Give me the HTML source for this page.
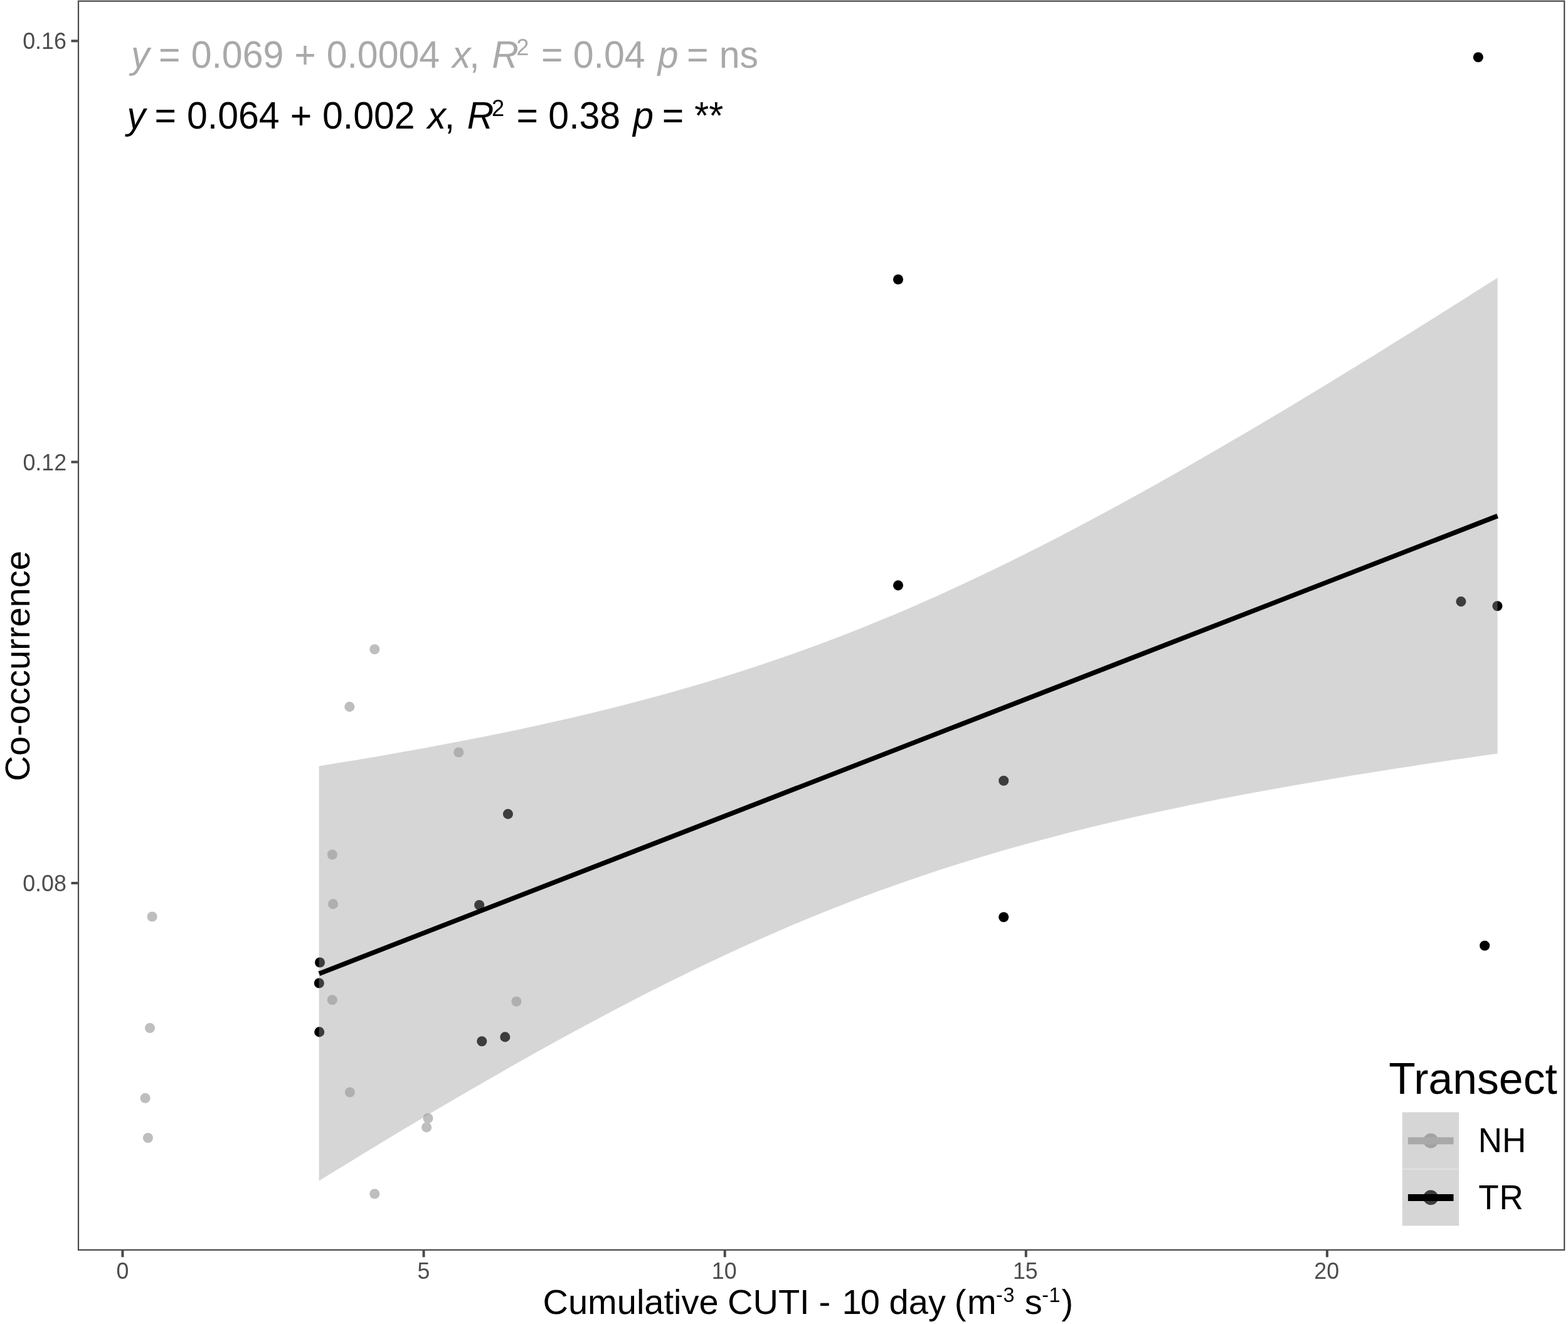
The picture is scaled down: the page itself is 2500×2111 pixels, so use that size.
<!DOCTYPE html>
<html lang="en"><head><meta charset="utf-8"><title>Co-occurrence vs Cumulative CUTI</title>
<style>
html,body{margin:0;padding:0;background:#fff;}
body{width:2500px;height:2111px;overflow:hidden;}
svg{display:block;font-family:"Liberation Sans", sans-serif;}
text{white-space:pre;}
.it{font-style:italic;}
</style></head><body>
<svg width="2500" height="2111" viewBox="0 0 2500 2111">
<rect x="0" y="0" width="2500" height="2111" fill="#ffffff"/>

<g id="points-nh" fill="#BEBEBE">
<circle cx="597.30" cy="1035.20" r="8.05"/>
<circle cx="557.30" cy="1126.90" r="8.05"/>
<circle cx="731.30" cy="1199.50" r="8.05"/>
<circle cx="529.80" cy="1362.60" r="8.05"/>
<circle cx="531.00" cy="1441.40" r="8.05"/>
<circle cx="242.60" cy="1461.50" r="8.05"/>
<circle cx="529.80" cy="1594.30" r="8.05"/>
<circle cx="823.40" cy="1596.70" r="8.05"/>
<circle cx="239.00" cy="1639.10" r="8.05"/>
<circle cx="557.80" cy="1741.50" r="8.05"/>
<circle cx="231.60" cy="1750.90" r="8.05"/>
<circle cx="682.50" cy="1783.00" r="8.05"/>
<circle cx="680.10" cy="1797.40" r="8.05"/>
<circle cx="235.90" cy="1814.30" r="8.05"/>
<circle cx="597.30" cy="1903.50" r="8.05"/>
</g>
<g id="points-tr" fill="#000000">
<circle cx="2356.85" cy="91.30" r="8.05"/>
<circle cx="1432.00" cy="445.45" r="8.05"/>
<circle cx="1432.00" cy="933.35" r="8.05"/>
<circle cx="2329.45" cy="959.10" r="8.05"/>
<circle cx="2387.40" cy="966.20" r="8.05"/>
<circle cx="809.90" cy="1297.90" r="8.05"/>
<circle cx="764.20" cy="1443.00" r="8.05"/>
<circle cx="510.00" cy="1534.50" r="8.05"/>
<circle cx="508.80" cy="1567.50" r="8.05"/>
<circle cx="509.20" cy="1645.40" r="8.05"/>
<circle cx="768.30" cy="1660.30" r="8.05"/>
<circle cx="805.30" cy="1653.40" r="8.05"/>
<circle cx="1600.25" cy="1244.80" r="8.05"/>
<circle cx="1600.25" cy="1462.25" r="8.05"/>
<circle cx="2367.20" cy="1507.80" r="8.05"/>
</g>
<path id="ribbon" d="M508.6,1221.4 L532.1,1217.6 L555.6,1213.8 L579.1,1209.9 L602.6,1205.9 L626.0,1201.8 L649.5,1197.6 L673.0,1193.4 L696.5,1189.0 L720.0,1184.6 L743.5,1180.1 L767.0,1175.5 L790.5,1170.7 L813.9,1165.9 L837.4,1160.9 L860.9,1155.8 L884.4,1150.6 L907.9,1145.2 L931.4,1139.7 L954.9,1134.0 L978.4,1128.2 L1001.8,1122.3 L1025.3,1116.1 L1048.8,1109.8 L1072.3,1103.3 L1095.8,1096.6 L1119.3,1089.7 L1142.8,1082.6 L1166.2,1075.3 L1189.7,1067.8 L1213.2,1060.1 L1236.7,1052.1 L1260.2,1044.0 L1283.7,1035.6 L1307.2,1026.9 L1330.7,1018.1 L1354.2,1009.0 L1377.6,999.7 L1401.1,990.1 L1424.6,980.4 L1448.1,970.4 L1471.6,960.1 L1495.1,949.7 L1518.6,939.0 L1542.1,928.1 L1565.5,917.0 L1589.0,905.7 L1612.5,894.2 L1636.0,882.6 L1659.5,870.7 L1683.0,858.7 L1706.5,846.4 L1729.9,834.1 L1753.4,821.5 L1776.9,808.8 L1800.4,796.0 L1823.9,783.0 L1847.4,769.9 L1870.9,756.7 L1894.4,743.3 L1917.8,729.8 L1941.3,716.3 L1964.8,702.6 L1988.3,688.8 L2011.8,674.9 L2035.3,660.9 L2058.8,646.9 L2082.3,632.7 L2105.8,618.5 L2129.2,604.2 L2152.7,589.8 L2176.2,575.4 L2199.7,560.9 L2223.2,546.3 L2246.7,531.7 L2270.2,517.0 L2293.7,502.3 L2317.1,487.5 L2340.6,472.7 L2364.1,457.8 L2387.6,442.9 L2387.6,1201.5 L2364.1,1204.8 L2340.6,1208.2 L2317.1,1211.6 L2293.7,1215.1 L2270.2,1218.6 L2246.7,1222.2 L2223.2,1225.8 L2199.7,1229.5 L2176.2,1233.2 L2152.7,1237.0 L2129.2,1240.9 L2105.8,1244.9 L2082.3,1248.9 L2058.8,1253.0 L2035.3,1257.2 L2011.8,1261.5 L1988.3,1265.8 L1964.8,1270.3 L1941.3,1274.8 L1917.8,1279.5 L1894.4,1284.3 L1870.9,1289.2 L1847.4,1294.2 L1823.9,1299.3 L1800.4,1304.6 L1776.9,1310.0 L1753.4,1315.5 L1729.9,1321.3 L1706.5,1327.1 L1683.0,1333.2 L1659.5,1339.4 L1636.0,1345.7 L1612.5,1352.3 L1589.0,1359.1 L1565.5,1366.0 L1542.1,1373.2 L1518.6,1380.5 L1495.1,1388.1 L1471.6,1395.9 L1448.1,1403.9 L1424.6,1412.2 L1401.1,1420.6 L1377.6,1429.3 L1354.2,1438.3 L1330.7,1447.4 L1307.2,1456.8 L1283.7,1466.4 L1260.2,1476.3 L1236.7,1486.4 L1213.2,1496.7 L1189.7,1507.2 L1166.2,1517.9 L1142.8,1528.9 L1119.3,1540.0 L1095.8,1551.4 L1072.3,1563.0 L1048.8,1574.7 L1025.3,1586.6 L1001.8,1598.7 L978.4,1611.0 L954.9,1623.4 L931.4,1636.0 L907.9,1648.7 L884.4,1661.6 L860.9,1674.6 L837.4,1687.8 L813.9,1701.1 L790.5,1714.5 L767.0,1728.0 L743.5,1741.6 L720.0,1755.3 L696.5,1769.1 L673.0,1783.1 L649.5,1797.1 L626.0,1811.1 L602.6,1825.3 L579.1,1839.6 L555.6,1853.9 L532.1,1868.3 L508.6,1882.7Z" fill="#999999" fill-opacity="0.4"/>
<line id="fit" x1="508.8" y1="1552.4" x2="2387.6" y2="822.6" stroke="#000" stroke-width="7.6"/>
<text id="eq-nh" fill="#A9A9A9" transform="matrix(1 0 0 1.028 0 -3.024)"><tspan class="it" x="209.00" y="108.00" font-size="59.0px">y </tspan><tspan x="253.00" y="108.00" font-size="59.0px">= </tspan><tspan x="304.65" y="108.00" font-size="59.0px">0.069 </tspan><tspan x="469.29" y="108.00" font-size="59.0px">+ </tspan><tspan x="520.64" y="108.00" font-size="59.0px">0.0004 </tspan><tspan class="it" x="721.00" y="108.00" font-size="59.0px">x</tspan><tspan x="748.25" y="108.00" font-size="59.0px">, </tspan><tspan class="it" x="784.29" y="108.00" font-size="59.0px">R</tspan><tspan x="823.32" y="88.45" font-size="36.2px">2 </tspan><tspan x="862.90" y="108.00" font-size="59.0px">= </tspan><tspan x="913.75" y="108.00" font-size="59.0px">0.04 </tspan><tspan class="it" x="1048.68" y="108.00" font-size="59.0px">p </tspan><tspan x="1095.10" y="108.00" font-size="59.0px">= </tspan><tspan x="1146.75" y="108.00" font-size="59.0px">ns</tspan></text>
<text id="eq-tr" fill="#000000" transform="matrix(1 0 0 1.028 0 -5.748)"><tspan class="it" x="202.40" y="205.30" font-size="59.0px">y </tspan><tspan x="246.40" y="205.30" font-size="59.0px">= </tspan><tspan x="298.05" y="205.30" font-size="59.0px">0.064 </tspan><tspan x="462.69" y="205.30" font-size="59.0px">+ </tspan><tspan x="514.04" y="205.30" font-size="59.0px">0.002 </tspan><tspan class="it" x="681.59" y="205.30" font-size="59.0px">x</tspan><tspan x="708.84" y="205.30" font-size="59.0px">, </tspan><tspan class="it" x="744.88" y="205.30" font-size="59.0px">R</tspan><tspan x="783.90" y="185.75" font-size="36.2px">2 </tspan><tspan x="823.49" y="205.30" font-size="59.0px">= </tspan><tspan x="874.34" y="205.30" font-size="59.0px">0.38 </tspan><tspan class="it" x="1009.27" y="205.30" font-size="59.0px">p </tspan><tspan x="1055.68" y="205.30" font-size="59.0px">= </tspan><tspan x="1107.33" y="205.30" font-size="59.0px">**</tspan></text>
<rect id="panel-border" x="125.00" y="1.75" width="2369.20" height="1991.15" fill="none" stroke="#4A4A4A" stroke-width="2.2"/>
<g id="ticks" stroke="#4A4A4A" stroke-width="4.0">
<line x1="195.45" y1="1994.0" x2="195.45" y2="2004.40"/>
<line x1="675.55" y1="1994.0" x2="675.55" y2="2004.40"/>
<line x1="1155.70" y1="1994.0" x2="1155.70" y2="2004.40"/>
<line x1="1635.80" y1="1994.0" x2="1635.80" y2="2004.40"/>
<line x1="2115.90" y1="1994.0" x2="2115.90" y2="2004.40"/>
<line x1="113.50" y1="65.30" x2="123.9" y2="65.30"/>
<line x1="113.50" y1="736.60" x2="123.9" y2="736.60"/>
<line x1="113.50" y1="1408.00" x2="123.9" y2="1408.00"/>
</g>
<g id="tick-labels" fill="#4D4D4D" font-size="35.8px">
<text x="185.42" y="2038.65" transform="matrix(1 0 0 1.028 0 -57.082)">0</text>
<text x="665.47" y="2038.65" transform="matrix(1 0 0 1.028 0 -57.082)">5</text>
<text x="1134.86" y="2038.65" transform="matrix(1 0 0 1.028 0 -57.082)">10</text>
<text x="1614.90" y="2038.65" transform="matrix(1 0 0 1.028 0 -57.082)">15</text>
<text x="2095.31" y="2038.65" transform="matrix(1 0 0 1.028 0 -57.082)">20</text>
<text x="36.19" y="78.40" transform="matrix(1 0 0 1.028 0 -2.195)">0.16</text>
<text x="36.46" y="749.70" transform="matrix(1 0 0 1.028 0 -20.992)">0.12</text>
<text x="36.19" y="1421.10" transform="matrix(1 0 0 1.028 0 -39.791)">0.08</text>
</g>
<text id="x-title" fill="#000"><tspan x="865.50" y="2094.80" font-size="56.0px">Cumulative </tspan><tspan x="1160.00" y="2094.80" font-size="56.0px">CUTI </tspan><tspan x="1305.48" y="2094.80" font-size="56.0px">- </tspan><tspan x="1342.40" y="2094.80" font-size="56.0px">1</tspan><tspan x="1371.70" y="2094.80" font-size="56.0px">0 </tspan><tspan x="1417.62" y="2094.80" font-size="56.0px">day </tspan><tspan x="1521.85" y="2094.80" font-size="56.0px">(</tspan><tspan x="1542.02" y="2094.80" font-size="56.0px">m</tspan><tspan x="1588.05" y="2076.00" font-size="32.3px">-</tspan><tspan x="1599.39" y="2076.00" font-size="32.3px">3 </tspan><tspan x="1633.76" y="2094.80" font-size="56.0px">s</tspan><tspan x="1661.25" y="2076.00" font-size="32.3px">-</tspan><tspan x="1672.38" y="2076.00" font-size="32.3px">1</tspan><tspan x="1692.60" y="2094.80" font-size="56.0px">)</tspan></text>
<text id="y-title" fill="#000" font-size="56.0px" transform="translate(47.3,1245.40) rotate(-90)">Co-occurrence</text>
<text id="legend-title" fill="#000" font-size="69.7px" x="2214.33" y="1744.0">Transect</text>
<g id="legend-keys">
<circle cx="2281.2" cy="1818.8" r="11.9" fill="#A9A9A9"/>
<circle cx="2281.2" cy="1909.4" r="11.9" fill="#000000"/>
<rect x="2235.8" y="1773.4" width="90.40" height="90.30" fill="#999999" fill-opacity="0.4"/>
<rect x="2235.8" y="1864.3" width="90.40" height="90.10" fill="#999999" fill-opacity="0.4"/>
<line x1="2244.9" y1="1818.9" x2="2317.5" y2="1818.9" stroke="#A9A9A9" stroke-width="11.2"/>
<line x1="2244.9" y1="1909.5" x2="2317.5" y2="1909.5" stroke="#000" stroke-width="11.2"/>
</g>
<text id="legend-nh" fill="#000" font-size="53.0px" x="2356.83" y="1836.9" transform="matrix(1 0 0 1.045 0 -82.660)">NH</text>
<text id="legend-tr" fill="#000" font-size="53.0px" x="2357.31" y="1928.1" transform="matrix(1 0 0 1.045 0 -86.764)">T<tspan dx="0.9">R</tspan></text>
</svg></body></html>
